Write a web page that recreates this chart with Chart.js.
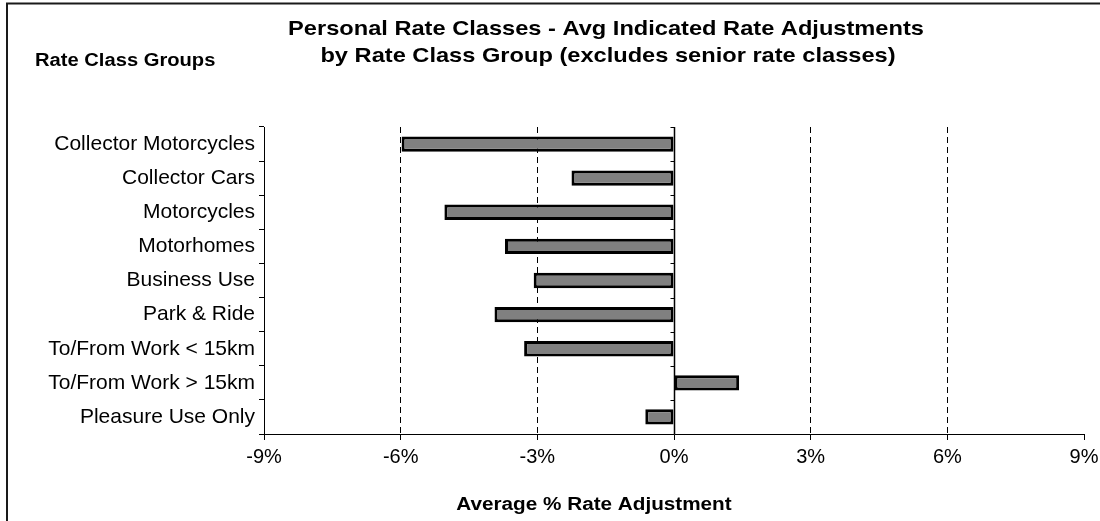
<!DOCTYPE html>
<html>
<head>
<meta charset="utf-8">
<script src="https://cdn.jsdelivr.net/npm/chart.js@4/dist/chart.umd.min.js"></script>
<style>
  html, body { margin: 0; padding: 0; background: #fff; overflow: hidden; }
  canvas { display: block; }
</style>
</head>
<body>
<canvas id="chart" width="1100" height="521"></canvas>
<script>
// Rate class groups, listed top to bottom
const categories = [
  'Collector Motorcycles',
  'Collector Cars',
  'Motorcycles',
  'Motorhomes',
  'Business Use',
  'Park & Ride',
  'To/From Work < 15km',
  'To/From Work > 15km',
  'Pleasure Use Only'
];

// Average indicated rate adjustment, in percent
const rateAdjustments = [-5.98, -2.25, -5.04, -3.71, -3.08, -3.94, -3.29, 1.43, -0.63];

// Percent axis range and tick spacing
const axisMin = -9;
const axisMax = 9;
const axisStep = 3;

const titleLines = [
  'Personal Rate Classes - Avg Indicated Rate Adjustments',
  'by Rate Class Group (excludes senior rate classes)'
];
const groupHeading = 'Rate Class Groups';
const xAxisTitle = 'Average % Rate Adjustment';

const FONT = '"Liberation Sans", Arial, Helvetica, sans-serif';

// Bold text, slightly widened horizontally
function wideText(ctx, text, x, y, size, sx, align) {
  ctx.save();
  ctx.font = 'bold ' + size + 'px ' + FONT;
  ctx.fillStyle = '#000';
  ctx.textBaseline = 'alphabetic';
  ctx.textAlign = align;
  ctx.translate(x, y);
  ctx.scale(sx, 1);
  ctx.fillText(text, 0, 0);
  ctx.restore();
}

const decorations = {
  id: 'decorations',
  afterDraw(chart) {
    const ctx = chart.ctx;
    const xs = chart.scales.x;
    const ys = chart.scales.y;

    ctx.save();
    // solid zero line over the bars
    const zx = Math.round(xs.getPixelForValue(0)) + 0.5;
    ctx.strokeStyle = '#000';
    ctx.lineWidth = 1.5;
    ctx.beginPath();
    ctx.moveTo(zx, ys.top);
    ctx.lineTo(zx, ys.bottom);
    ctx.stroke();

    // short marks on the zero line at the category boundaries
    ctx.lineWidth = 1;
    for (let i = 0; i <= categories.length; i++) {
      const py = Math.round(ys.getPixelForValue(i - 0.5)) + 0.5;
      ctx.beginPath();
      ctx.moveTo(zx - 4, py);
      ctx.lineTo(zx, py);
      ctx.stroke();
    }

    // outer frame
    ctx.lineWidth = 2;
    ctx.strokeStyle = '#1a1a1a';
    ctx.strokeRect(7, 3.5, 1200, 600);
    ctx.restore();

    // titles
    wideText(ctx, titleLines[0], 606, 34.5, 21, 1.125, 'center');
    wideText(ctx, titleLines[1], 608, 62, 21, 1.125, 'center');
    wideText(ctx, groupHeading, 35, 66, 18, 1.12, 'left');
    wideText(ctx, xAxisTitle, 594, 510, 18, 1.15, 'center');
  }
};

new Chart(document.getElementById('chart'), {
  type: 'bar',
  data: {
    labels: categories,
    datasets: [{
      data: rateAdjustments,
      backgroundColor: '#808080',
      borderColor: '#000',
      borderWidth: 3,
      borderSkipped: false,
      barPercentage: 0.45,
      categoryPercentage: 1
    }]
  },
  options: {
    indexAxis: 'y',
    responsive: false,
    animation: false,
    devicePixelRatio: 1,
    layout: { padding: { top: 127, right: 16, left: 0, bottom: 0 } },
    plugins: {
      legend: { display: false },
      tooltip: { enabled: false },
      title: { display: false }
    },
    scales: {
      x: {
        min: axisMin,
        max: axisMax,
        afterFit(scale) {
          scale.height = 87;
          scale.paddingLeft = 0;
          scale.paddingRight = 0;
        },
        ticks: {
          stepSize: axisStep,
          callback: v => v + '%',
          color: '#000',
          font: { family: FONT, size: 20 },
          padding: 5,
          maxRotation: 0
        },
        grid: {
          color: ctx => (ctx.tick && (ctx.tick.value === 0 || Math.abs(ctx.tick.value) === 9)) ? 'rgba(0,0,0,0)' : '#000',
          tickColor: '#000',
          tickLength: 6,
          lineWidth: 1
        },
        border: { display: true, color: '#000', width: 1, dash: [6, 4] }
      },
      y: {
        afterFit(scale) { scale.width = 264; },
        ticks: {
          color: '#000',
          font: { family: FONT, size: 21 },
          padding: 4
        },
        grid: {
          offset: true,
          drawOnChartArea: false,
          tickColor: '#000',
          tickLength: 5
        },
        border: { display: true, color: '#000', width: 1 }
      }
    }
  },
  plugins: [decorations]
});
</script>
</body>
</html>
